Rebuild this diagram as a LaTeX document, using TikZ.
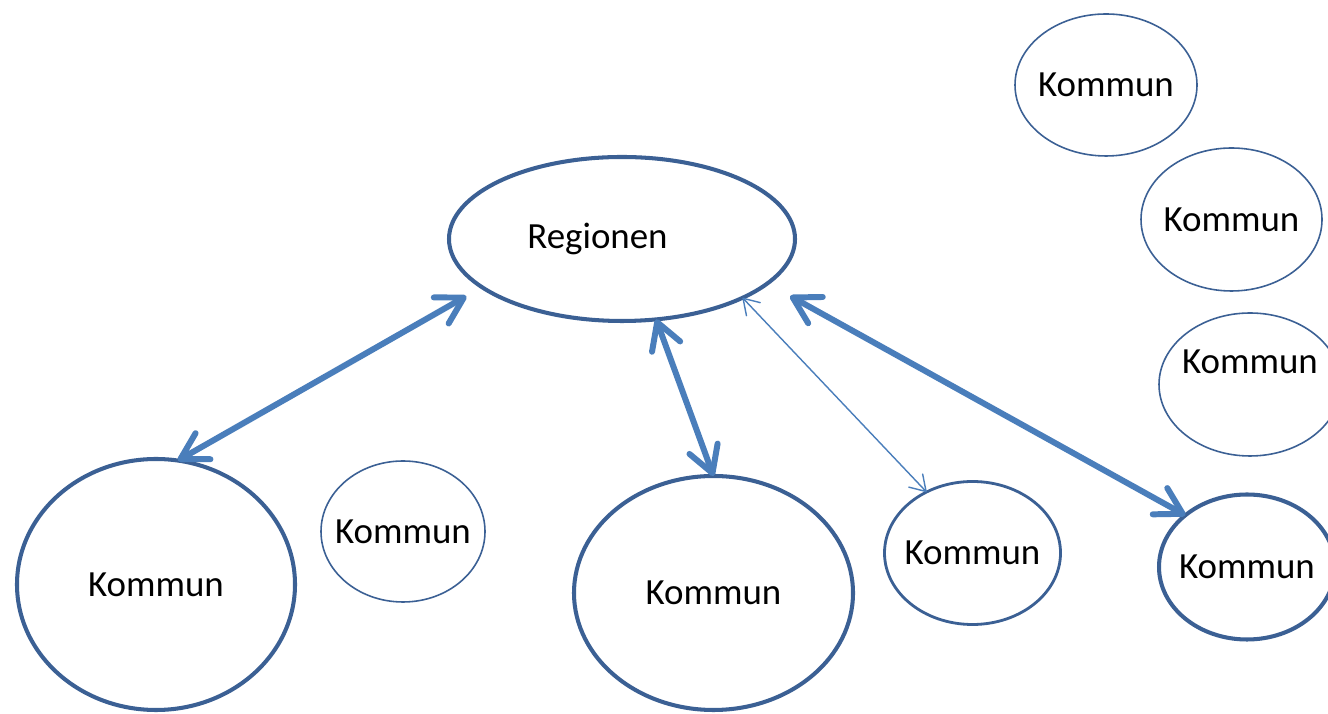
\documentclass[tikz,border=0pt]{standalone}
\usepackage{fontspec}
\setmainfont{Carlito}
\usetikzlibrary{shapes.geometric,arrows.meta}
\definecolor{rim}{RGB}{59,96,148}
\definecolor{arrowc}{RGB}{74,126,187}
\newcommand\ktext[1]{\makebox[0pt]{#1}}
\tikzset{
  kom/.style={ellipse, draw=rim, inner sep=0pt, outer sep=0pt, font=\fontsize{10.5pt}{12pt}\selectfont, text=black},
  thickrim/.style={kom, line width=1.15pt},
  midrim/.style={kom, line width=0.8pt},
  thinrim/.style={kom, line width=0.45pt},
  barb/.tip={Straight Barb[length=2.6mm,width=3mm,round]},
  smallbarb/.tip={Straight Barb[length=1.5mm,width=1.9mm,round]},
  link/.style={draw=arrowc, line width=1.7pt, barb-barb},
  thinlink/.style={draw=arrowc, line width=0.4pt, smallbarb-smallbarb},
}
\begin{document}
\begin{tikzpicture}
\fill[white] (0,0) rectangle (13.28,-7.14);
\useasboundingbox (0,0) rectangle (13.28,-7.14);

\node[thickrim, minimum width=3.46cm, minimum height=1.64cm] (reg) at (6.22,-2.39) {\ktext{Regionen\rule{0.49cm}{0pt}}};
\node[thickrim, minimum width=2.78cm, minimum height=2.51cm] (k1) at (1.56,-5.845) {\ktext{Kommun}};
\node[thinrim, minimum width=1.64cm, minimum height=1.41cm] (k2) at (4.03,-5.315) {\ktext{Kommun}};
\node[thickrim, minimum width=2.79cm, minimum height=2.34cm] (k3) at (7.135,-5.93) {\ktext{Kommun}};
\node[midrim, minimum width=1.76cm, minimum height=1.43cm] (k4) at (9.725,-5.53) {\ktext{Kommun}};
\node[thickrim, minimum width=1.76cm, minimum height=1.45cm] (k5) at (12.47,-5.67) {\ktext{Kommun}};
\node[thinrim, minimum width=1.82cm, minimum height=1.42cm] (k6) at (11.06,-0.85) {\ktext{Kommun}};
\node[thinrim, minimum width=1.81cm, minimum height=1.43cm] (k7) at (12.315,-2.195) {\ktext{Kommun}};
\node[thinrim, minimum width=1.82cm, minimum height=1.43cm] (k8) at (12.50,-3.845) {\ktext{Kommun}\rule[-0.45cm]{0pt}{0pt}};

\draw[link, shorten <=0.18cm] (reg.199) -- (k1.80);
\draw[link] (reg.293) -- (k3.90);
\draw[thinlink] (reg.334) -- (k4.127);
\draw[link, shorten <=0.26cm] (reg.343) -- (k5.140);
\end{tikzpicture}
\end{document}
